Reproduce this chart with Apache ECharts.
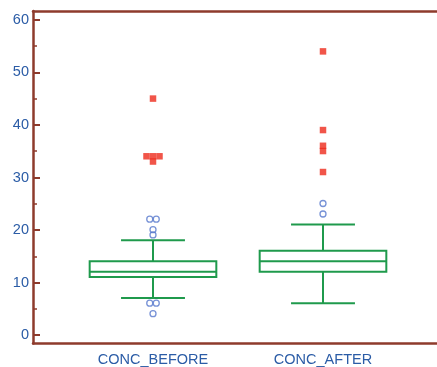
<!DOCTYPE html>
<html>
<head>
<meta charset="utf-8">
<script src="https://cdn.jsdelivr.net/npm/echarts@6/dist/echarts.min.js"></script>
<style>
html,body{margin:0;padding:0;background:#fff;}
#chart{width:437px;height:367px;}
</style>
</head>
<body>
<div id="chart"></div>
<script>
// ---- data ----
const categories = ['CONC_BEFORE', 'CONC_AFTER'];
const whiskerLow = [7, 6];
const q1 = [11, 12];
const median = [12, 14];
const q3 = [14, 16];
const whiskerHigh = [18, 21];
const outsideBefore = [22, 22, 20, 19, 6, 6, 4];
const outsideAfter = [25, 23];
const farOutBefore = [45, 34, 34, 34, 33];
const farOutAfter = [54, 39, 36, 35, 31];
const yMajorTicks = [0, 10, 20, 30, 40, 50, 60];
const yMinorTicks = [5, 15, 25, 35, 45, 55];

// ---- styles ----
const AXIS = '#8e3b2c';
const LABEL = '#2b5ca6';
const GREEN = '#1f9a4c';
const RED = '#ee2b1b';
const BLUE = '#5577cc';
const FONT = '"Liberation Sans", Arial, sans-serif';
const Y_MIN = -1.6, Y_MAX = 61.7;
const AXIS_W = 2.5;

function jitter(values, cat, step) {
  const counts = {}, seen = {};
  values.forEach(v => counts[v] = (counts[v] || 0) + 1);
  return values.map(v => {
    const n = counts[v];
    const i = seen[v] = (seen[v] || 0) + 1;
    return { value: [cat, v], symbolOffset: [((i - 1) - (n - 1) / 2) * step, 0] };
  });
}

const boxData = categories.map((c, i) => [i, whiskerLow[i], q1[i], median[i], q3[i], whiskerHigh[i]]);

const frameX = pos => ({
  type: 'value', gridIndex: 0, position: pos, min: 0, max: 1,
  axisLine: { show: true, onZero: false, lineStyle: { color: AXIS, width: AXIS_W } },
  axisTick: { show: false }, axisLabel: { show: false }, splitLine: { show: false }
});

const chart = echarts.init(document.getElementById('chart'), null, { renderer: 'canvas' });
chart.setOption({
  animation: false,
  backgroundColor: '#fff',
  grid: [
    { left: 33, right: -20, top: 11, bottom: 23.5 },
    { left: 68, right: 29, top: 11, bottom: 23.5 }
  ],
  xAxis: [
    frameX('top'),
    frameX('bottom'),
    {
      type: 'category', gridIndex: 1, data: categories,
      axisLine: { show: false, onZero: false },
      axisTick: { alignWithLabel: true, inside: true, length: 6, lineStyle: { color: AXIS, width: 2 } },
      axisLabel: { color: LABEL, fontSize: 14.5, fontFamily: FONT, margin: 9 },
      splitLine: { show: false }
    }
  ],
  yAxis: [
    {
      type: 'value', gridIndex: 0, position: 'left', min: Y_MIN, max: Y_MAX,
      axisLine: { show: true, onZero: false, lineStyle: { color: AXIS, width: AXIS_W } },
      axisTick: { show: true, inside: true, length: 7, customValues: yMajorTicks, lineStyle: { color: AXIS, width: 2 } },
      axisLabel: { customValues: yMajorTicks, color: LABEL, fontSize: 14.5, fontFamily: FONT, margin: 4 },
      splitLine: { show: false }
    },
    {
      type: 'value', gridIndex: 0, position: 'left', offset: 0, min: Y_MIN, max: Y_MAX,
      axisLine: { show: false, onZero: false },
      axisTick: { show: true, inside: true, length: 4, customValues: yMinorTicks, lineStyle: { color: AXIS, width: 1.5 } },
      axisLabel: { show: false },
      splitLine: { show: false }
    },
    {
      type: 'value', gridIndex: 1, min: Y_MIN, max: Y_MAX, show: false, splitLine: { show: false }
    }
  ],
  series: [
    {
      type: 'custom', xAxisIndex: 2, yAxisIndex: 2,
      data: boxData,
      encode: { x: 0, y: [1, 2, 3, 4, 5] },
      renderItem: function (params, api) {
        const cat = api.value(0);
        const pLow = api.coord([cat, api.value(1)]);
        const pQ1 = api.coord([cat, api.value(2)]);
        const pMed = api.coord([cat, api.value(3)]);
        const pQ3 = api.coord([cat, api.value(4)]);
        const pHigh = api.coord([cat, api.value(5)]);
        const band = api.size([1, 0])[0];
        const bw = band * 0.745, cw = band * 0.376;
        const cx = pMed[0];
        const st = { stroke: GREEN, lineWidth: 2, fill: null };
        const ln = (x1, y1, x2, y2) => ({ type: 'line', shape: { x1, y1, x2, y2 }, style: st });
        return {
          type: 'group',
          children: [
            ln(cx, pLow[1], cx, pQ1[1]),
            ln(cx, pQ3[1], cx, pHigh[1]),
            ln(cx - cw / 2, pLow[1], cx + cw / 2, pLow[1]),
            ln(cx - cw / 2, pHigh[1], cx + cw / 2, pHigh[1]),
            { type: 'rect', shape: { x: cx - bw / 2, y: pQ3[1], width: bw, height: pQ1[1] - pQ3[1] }, style: { stroke: GREEN, lineWidth: 2, fill: 'transparent' } },
            ln(cx - bw / 2, pMed[1], cx + bw / 2, pMed[1])
          ]
        };
      }
    },
    {
      type: 'scatter', xAxisIndex: 2, yAxisIndex: 2,
      symbol: 'circle', symbolSize: 6,
      itemStyle: { color: 'rgba(0,0,0,0)', borderColor: BLUE, borderWidth: 1.3 },
      data: jitter(outsideBefore, 0, 6.5).concat(jitter(outsideAfter, 1, 6.5))
    },
    {
      type: 'scatter', xAxisIndex: 2, yAxisIndex: 2,
      symbol: 'rect', symbolSize: 6.5,
      itemStyle: { color: RED },
      data: jitter(farOutBefore, 0, 6.5).concat(jitter(farOutAfter, 1, 6.5))
    }
  ]
});
</script>
</body>
</html>
